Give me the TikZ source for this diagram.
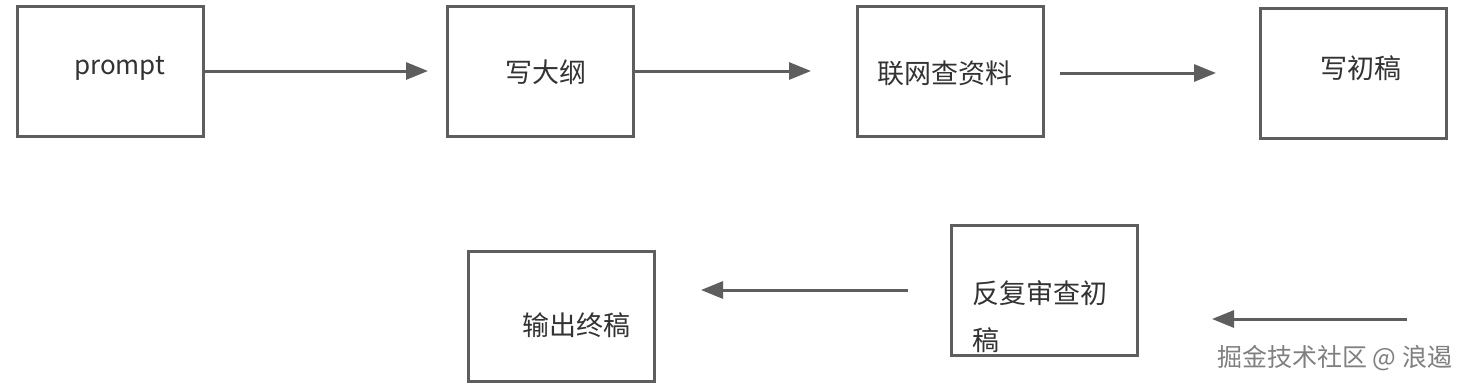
\documentclass[tikz,border=0pt]{standalone}
\usepackage{fontspec}
\setmainfont{Noto Sans CJK SC}
\usetikzlibrary{arrows.meta}
\definecolor{ln}{HTML}{5E5E5E}
\definecolor{tx}{HTML}{333333}
\tikzset{
  box/.style={draw=ln, line width=3pt, minimum width=186pt, minimum height=130pt, inner sep=0pt},
  lbl/.style={font=\fontsize{27}{32}\selectfont, text=tx, inner sep=0pt, anchor=base west},
  conn/.style={draw=ln, line width=3pt, -{Triangle[length=22pt,width=17pt]}},
}
\begin{document}
\begin{tikzpicture}[x=1pt,y=-1pt]
\useasboundingbox (0,0) rectangle (1468,388);
\fill[white] (0,0) rectangle (1468,388);
% boxes
\node[box] (b1) at (110,71) {};
\node[box] (b2) at (540.5,71) {};
\node[box] (b3) at (950.5,71) {};
\node[box] (b4) at (1353.5,73.5) {};
\node[box] (b5) at (561,316) {};
\node[box] (b6) at (1044.5,290) {};
% labels
\node[lbl, font=\fontsize{26}{30}\selectfont] (t1) at (74,74) {prompt};
\node[lbl] (t2) at (505,82) {写大纲};
\node[lbl] (t3) at (877,83) {联网查资料};
\node[lbl] (t4) at (1320,78) {写初稿};
\node[lbl] (t5) at (522,335) {输出终稿};
\node[lbl] (t6a) at (972,303) {反复审查初};
\node[lbl] (t6b) at (972,350) {稿};
% arrow end points
\coordinate (a1s) at (204,71);  \coordinate (a1e) at (428,71);
\coordinate (a2s) at (634,71);  \coordinate (a2e) at (811,71);
\coordinate (a3s) at (1060,73); \coordinate (a3e) at (1216,73);
\coordinate (a4s) at (1407,319);\coordinate (a4e) at (1212,319);
\coordinate (a5s) at (908,290); \coordinate (a5e) at (701,290);
\draw[conn] (a1s) -- (a1e);
\draw[conn] (a2s) -- (a2e);
\draw[conn] (a3s) -- (a3e);
\draw[conn] (a4s) -- (a4e);
\draw[conn] (a5s) -- (a5e);
% watermark
\node[font=\fontsize{25}{28}\selectfont, text=black!50, inner sep=0pt, anchor=base west] (wm) at (1217,366) {掘金技术社区 @ 浪遏};
\end{tikzpicture}
\end{document}
